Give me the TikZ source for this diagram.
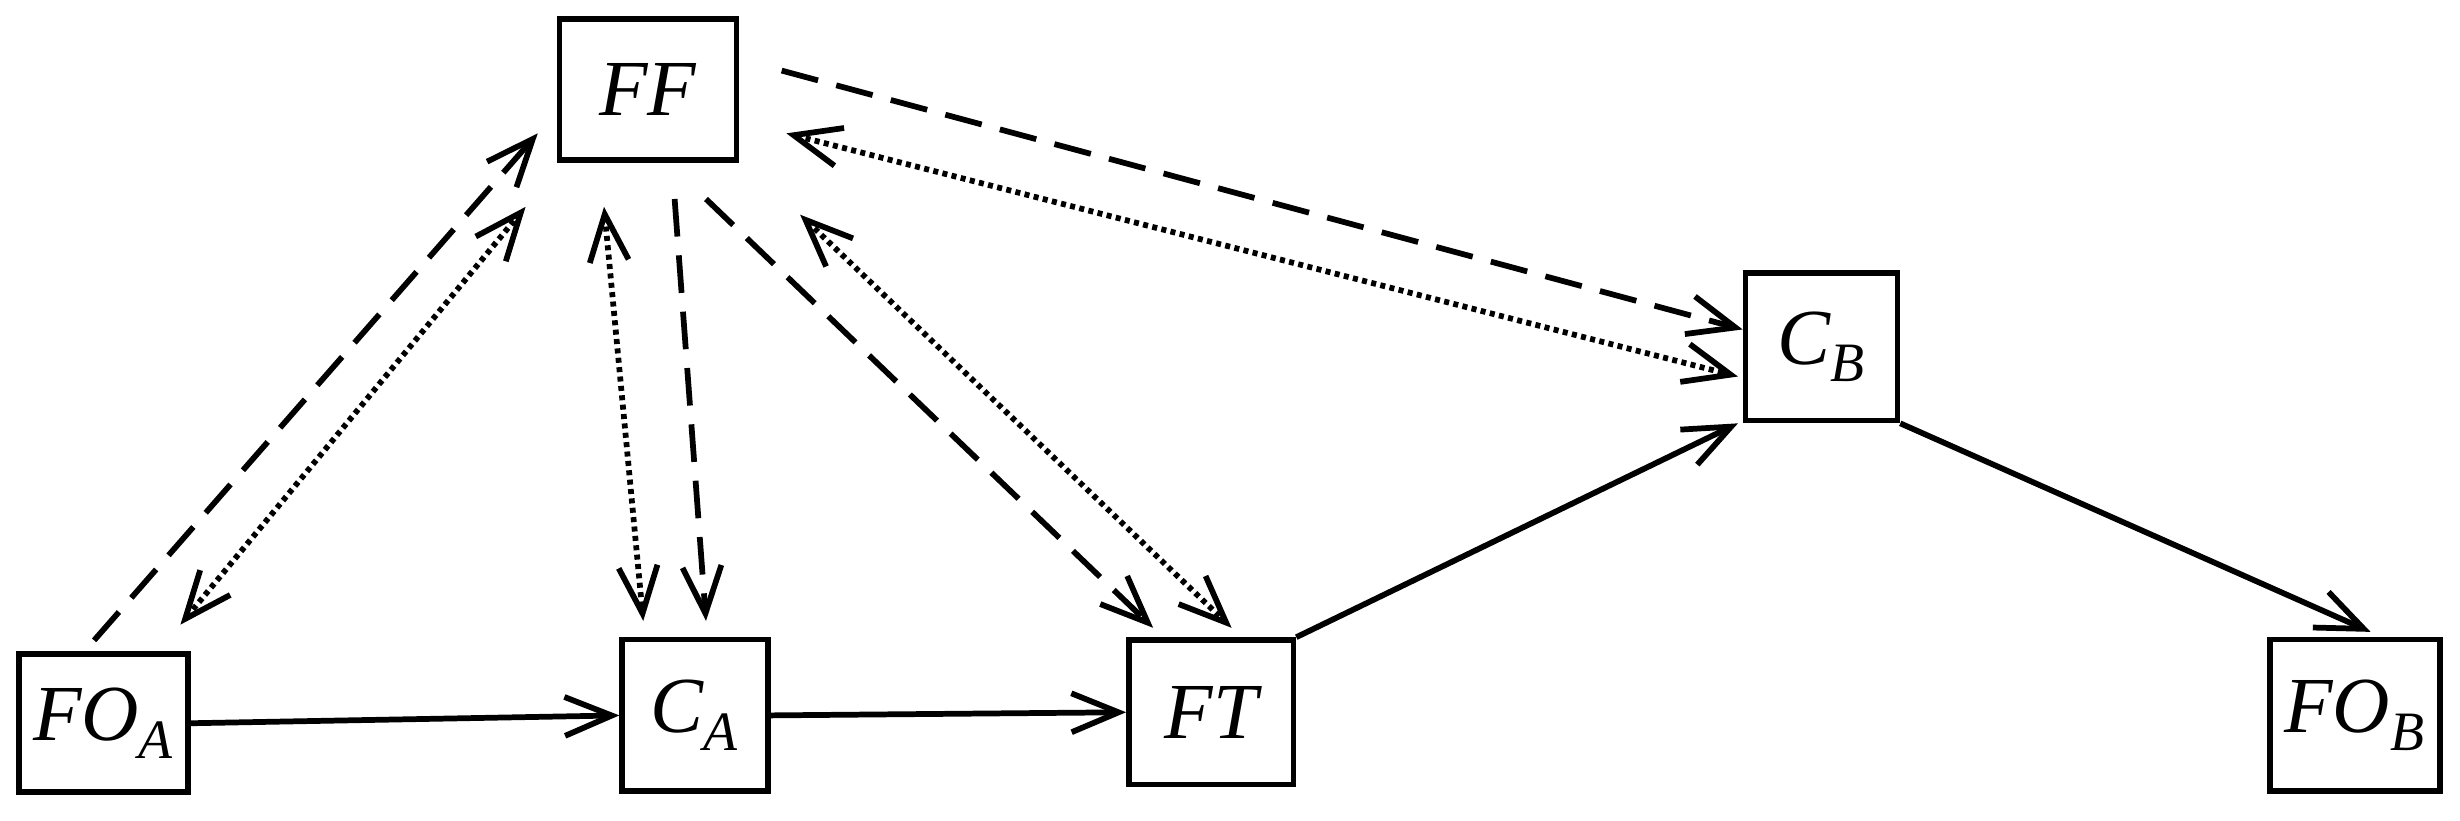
\documentclass[tikz,border=0pt]{standalone}
\usepackage{fontspec}
\setmainfont{Liberation Serif}
\usetikzlibrary{arrows.meta}
\tikzset{
  box/.style={draw, line width=2.6pt, inner sep=0pt, font=\fontsize{36}{40}\selectfont\itshape},
  link/.style={line width=2.6pt, -{Straight Barb[length=0.75cm, width=0.62cm, line width=2.6pt]}},
  both/.style={line width=2.6pt, {Straight Barb[length=0.75cm, width=0.62cm, line width=2.6pt]}-{Straight Barb[length=0.75cm, width=0.62cm, line width=2.6pt]}},
  dashlink/.style={link, dash pattern=on 0.6cm off 0.3cm},
  dotlink/.style={both, dash pattern=on 0.08cm off 0.07cm}
}
\begin{document}
\begin{tikzpicture}[x=0.025cm, y=-0.025cm]
  \useasboundingbox (0,0) rectangle (1568,523);
  % boxes
  \node[box, minimum width=2.82cm, minimum height=2.25cm] (FF) at (413,57) {FF};
  \node[box, minimum width=2.7cm, minimum height=2.2cm] (FOA) at (66,461) {FO\textsubscript{\itshape A}};
  \node[box, minimum width=2.32cm, minimum height=2.42cm] (CA) at (443,456) {C\textsubscript{\itshape A}};
  \node[box, minimum width=2.62cm, minimum height=2.3cm] (FT) at (772,454) {FT};
  \node[box, minimum width=2.42cm, minimum height=2.35cm] (CB) at (1161,221) {C\textsubscript{\itshape B}};
  \node[box, minimum width=2.7cm, minimum height=2.42cm] (FOB) at (1501,456) {FO\textsubscript{\itshape B}};

  % solid flow
  \draw[link] (FOA.east) -- (CA.west);
  \draw[link] (CA.east) -- (FT.west);
  \draw[link] (FT.north east) -- ([shift={(-3,0)}]CB.south west);
  \draw[link] (CB.south east) -- ([shift={(10,-3)}]FOB.north);

  % dashed
  \draw[dashlink] ([shift={(-6,-7)}]FOA.north) -- ([shift={(-12,28)}]FF.west);
  \draw[dashlink] ([shift={(17,23)}]FF.south) -- ([shift={(7,-10)}]CA.north);
  \draw[dashlink] ([shift={(37,23)}]FF.south) -- ([shift={(-37,-6)}]FT.north);
  \draw[dashlink] ([shift={(27,-12)}]FF.east) -- ([shift={(0,-11)}]CB.west);

  % dotted
  \draw[dotlink] ([shift={(49,-17)}]FOA.north) -- ([shift={(-78,28)}]FF.south);
  \draw[dotlink] ([shift={(-28,28)}]FF.south) -- ([shift={(-33,-10)}]CA.north);
  \draw[dotlink] ([shift={(97,33)}]FF.south) -- ([shift={(13,-6)}]FT.north);
  \draw[dotlink] ([shift={(30,28)}]FF.east) -- ([shift={(-3,19)}]CB.west);
\end{tikzpicture}
\end{document}
